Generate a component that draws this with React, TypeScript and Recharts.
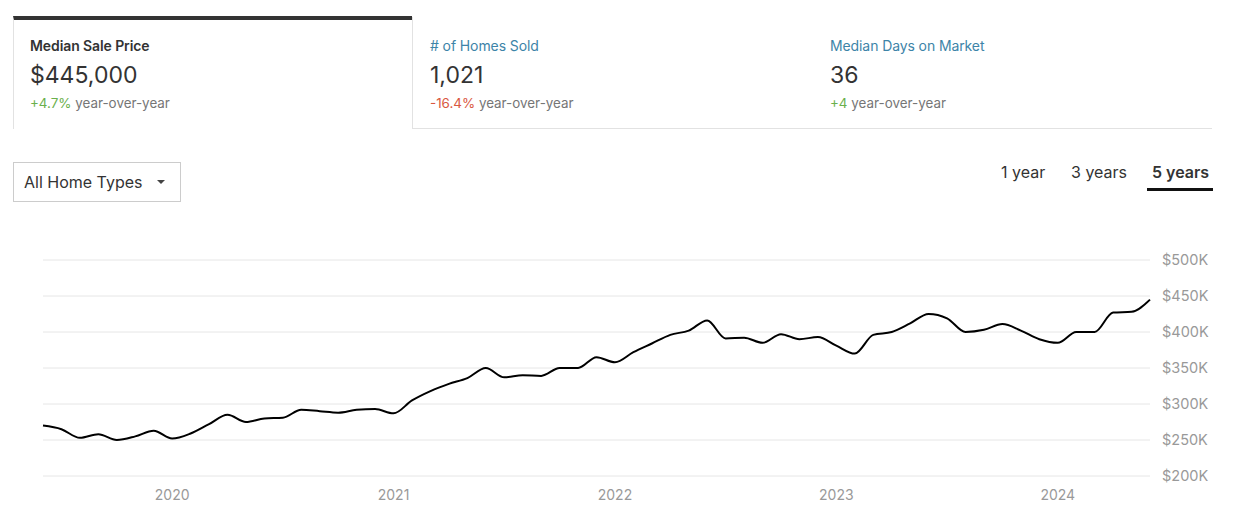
import React from "react";
import { LineChart, Line, XAxis, YAxis, CartesianGrid } from "recharts";

// Monthly median sale price, Jun 2019 – Jun 2024
const months = [
  "2019-06", "2019-07", "2019-08", "2019-09", "2019-10", "2019-11", "2019-12",
  "2020-01", "2020-02", "2020-03", "2020-04", "2020-05", "2020-06", "2020-07", "2020-08", "2020-09", "2020-10", "2020-11", "2020-12",
  "2021-01", "2021-02", "2021-03", "2021-04", "2021-05", "2021-06", "2021-07", "2021-08", "2021-09", "2021-10", "2021-11", "2021-12",
  "2022-01", "2022-02", "2022-03", "2022-04", "2022-05", "2022-06", "2022-07", "2022-08", "2022-09", "2022-10", "2022-11", "2022-12",
  "2023-01", "2023-02", "2023-03", "2023-04", "2023-05", "2023-06", "2023-07", "2023-08", "2023-09", "2023-10", "2023-11", "2023-12",
  "2024-01", "2024-02", "2024-03", "2024-04", "2024-05", "2024-06",
];

const medianSalePrice = [
  270000, 265000, 253000, 258000, 250000, 255000, 263000,
  252000, 259000, 272000, 285000, 275000, 280000, 281000, 292000, 290000, 288000, 292000, 293000,
  287000, 305000, 318000, 328000, 336000, 350000, 337000, 340000, 339000, 350000, 350000, 365000,
  358000, 372000, 384000, 396000, 402000, 416000, 391000, 392000, 385000, 397000, 390000, 393000,
  381000, 370000, 396000, 400000, 412000, 425000, 419000, 400000, 403000, 411000, 402000, 390000,
  385000, 400000, 400000, 427000, 428000, 445000,
];

const yTicks = [200000, 250000, 300000, 350000, 400000, 450000, 500000];

const statTitles = ["Median Sale Price", "# of Homes Sold", "Median Days on Market"];
const statValues = ["$445,000", "1,021", "36"];
const statChanges = ["+4.7%", "-16.4%", "+4"];
const statChangeUp = [true, false, true];

const rangeOptions = ["1 year", "3 years", "5 years"];
const homeTypeLabel = "All Home Types";

const data = months.map((m, i) => ({ month: m, price: medianSalePrice[i] }));

const FONT = "Inter, 'Open Sans', sans-serif";

export default function App() {
  return (
    <div
      style={{
        position: "absolute",
        left: 0,
        top: 0,
        width: 1242,
        height: 519,
        background: "#fff",
        fontFamily: FONT,
        overflow: "hidden",
      }}
    >
      {/* Tabs */}
      <div
        style={{
          position: "absolute",
          left: 13,
          top: 16,
          width: 399,
          height: 113,
          borderTop: "4px solid #333",
          borderLeft: "1px solid #e2e2e2",
          boxSizing: "border-box",
        }}
      />
      <div
        style={{
          position: "absolute",
          left: 412,
          top: 17,
          width: 800,
          height: 112,
          borderLeft: "1px solid #e2e2e2",
          borderBottom: "1px solid #e2e2e2",
          boxSizing: "border-box",
        }}
      />
      {statTitles.map((t, i) => {
        const left = [30, 430, 830][i];
        return (
          <div key={t} style={{ position: "absolute", left, top: 37 }}>
            <div
              style={{
                fontSize: 14,
                fontWeight: i === 0 ? 600 : 400,
                color: i === 0 ? "#333" : "#3d84a8",
                lineHeight: "18px",
                whiteSpace: "nowrap",
                letterSpacing: -0.1,
              }}
            >
              {t}
            </div>
            <div style={{ fontSize: 23, color: "#333", lineHeight: "28px", marginTop: 6, whiteSpace: "nowrap" }}>
              {statValues[i]}
            </div>
            <div style={{ fontSize: 13.4, color: "#767676", lineHeight: "18px", marginTop: 5, whiteSpace: "nowrap" }}>
              <span style={{ color: statChangeUp[i] ? "#6ab04c" : "#d9573e" }}>{statChanges[i]}</span> year-over-year
            </div>
          </div>
        );
      })}

      {/* Dropdown */}
      <div
        style={{
          position: "absolute",
          left: 13,
          top: 162,
          width: 168,
          height: 40,
          border: "1px solid #cccccc",
          boxSizing: "border-box",
        }}
      >
        <span style={{ position: "absolute", left: 10, top: 9, fontSize: 16, color: "#333", lineHeight: "20px", whiteSpace: "nowrap" }}>
          {homeTypeLabel}
        </span>
        <span
          style={{
            position: "absolute",
            left: 143,
            top: 17,
            width: 0,
            height: 0,
            borderLeft: "4px solid transparent",
            borderRight: "4px solid transparent",
            borderTop: "4px solid #444",
          }}
        />
      </div>

      {/* Range buttons */}
      {rangeOptions.map((r, i) => {
        const left = [1001, 1071, 1152][i];
        return (
          <div
            key={r}
            style={{
              position: "absolute",
              left,
              top: 162,
              fontSize: 16,
              lineHeight: "20px",
              color: "#333",
              fontWeight: i === 2 ? 600 : 400,
              whiteSpace: "nowrap",
            }}
          >
            {r}
          </div>
        );
      })}
      <div style={{ position: "absolute", left: 1147, top: 188, width: 66, height: 3, background: "#111" }} />

      {/* Chart */}
      <div style={{ position: "absolute", left: 0, top: 240 }}>
        <LineChart width={1242} height={279} data={data} margin={{ top: 20, right: 32, left: 43, bottom: 0 }}>
          <CartesianGrid horizontal vertical={false} stroke="#e6e6e6" strokeWidth={1} />
          <XAxis
            dataKey="month"
            axisLine={false}
            tickLine={false}
            interval={0}
            height={43}
            tickMargin={8}
            tick={{ fill: "#999", fontSize: 14, fontFamily: FONT }}
            tickFormatter={(m: string) => (m.endsWith("-01") ? m.slice(0, 4) : "")}
          />
          <YAxis
            orientation="right"
            domain={[200000, 500000]}
            ticks={yTicks}
            axisLine={false}
            tickLine={false}
            width={60}
            tickMargin={6}
            tick={{ fill: "#999", fontSize: 14.5, fontFamily: FONT }}
            tickFormatter={(v: number) => `$${v / 1000}K`}
          />
          <Line
            type="monotone"
            dataKey="price"
            stroke="#000"
            strokeWidth={2}
            dot={false}
            isAnimationActive={false}
          />
        </LineChart>
      </div>
    </div>
  );
}
